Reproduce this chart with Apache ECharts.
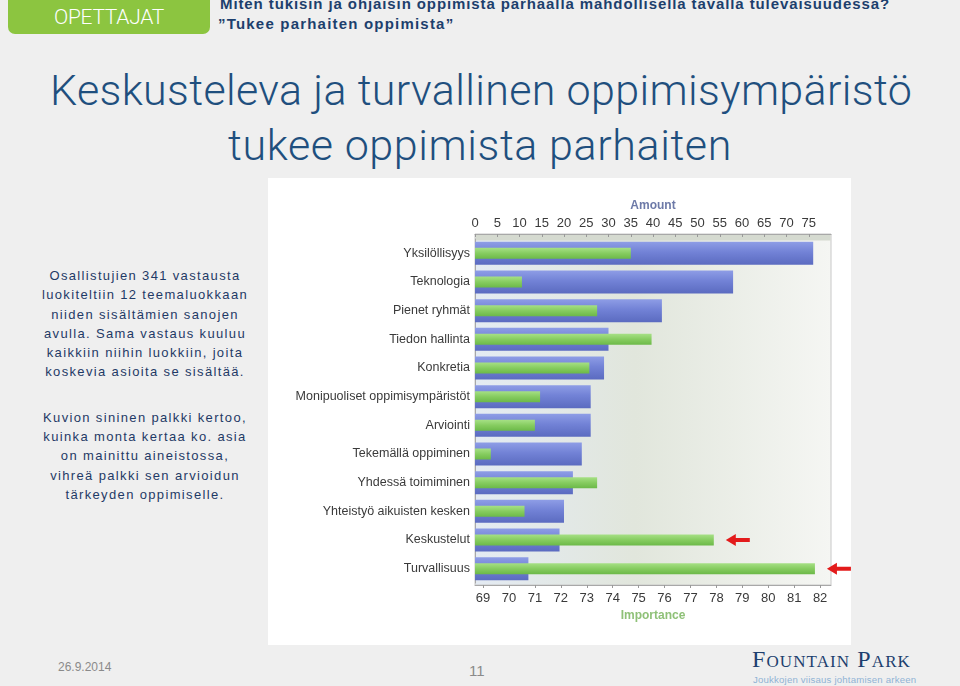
<!DOCTYPE html>
<html>
<head>
<meta charset="utf-8">
<script src="https://cdn.jsdelivr.net/npm/echarts@6/dist/echarts.min.js"></script>
<style>
  html,body{margin:0;padding:0;width:960px;height:686px;overflow:hidden;background:#efefef;font-family:"Liberation Sans",Arial,sans-serif;}
  .abs{position:absolute;white-space:nowrap;}
  #tag{left:8px;top:0;width:202px;height:34px;background:#8cc540;border-radius:0 0 7px 7px;color:#fff;font-size:21px;line-height:34px;text-align:center;font-family:Roboto,"Liberation Sans",sans-serif;font-weight:300;letter-spacing:-0.3px;}
  #h1{left:220px;top:-5px;font-size:15px;font-weight:bold;color:#1d3f6d;letter-spacing:0.9px;}
  #h2{left:218px;top:15px;font-size:15px;font-weight:bold;color:#1d3f6d;letter-spacing:1.2px;}
  .title{font-family:Roboto,"Liberation Sans",sans-serif;font-weight:300;color:#1f4f7e;font-size:43px;}
  #t1{left:50px;top:65px;letter-spacing:0.35px;}
  #t2{left:228px;top:120px;letter-spacing:0.6px;}
  #left{left:20px;top:266px;width:250px;text-align:center;color:#1f3a66;font-size:13px;line-height:19.3px;letter-spacing:1.35px;white-space:normal;}
  #panel{left:268px;top:178px;width:583px;height:467px;background:#fff;}
  #chart{left:268px;top:178px;width:583px;height:467px;}
  #date{left:58px;top:660px;font-size:12px;color:#8a8a8a;}
  #page{left:469px;top:662px;font-size:15px;color:#8a8a8a;}
  #logo1{left:752px;top:646px;font-family:"Liberation Serif","DejaVu Serif",serif;font-variant:small-caps;font-size:24px;color:#1d3f6e;letter-spacing:1.1px;}
  #logo2{left:753px;top:674px;font-size:9.6px;color:#8fb3d5;letter-spacing:0.2px;}
</style>
</head>
<body>
<div id="tag" class="abs">OPETTAJAT</div>
<div id="h1" class="abs">Miten tukisin ja ohjaisin oppimista parhaalla mahdollisella tavalla tulevaisuudessa?</div>
<div id="h2" class="abs">”Tukee parhaiten oppimista”</div>
<div id="t1" class="abs title">Keskusteleva ja turvallinen oppimisympäristö</div>
<div id="t2" class="abs title">tukee oppimista parhaiten</div>
<div id="left" class="abs">Osallistujien 341 vastausta<br>luokiteltiin 12 teemaluokkaan<br>niiden sisältämien sanojen<br>avulla. Sama vastaus kuuluu<br>kaikkiin niihin luokkiin, joita<br>koskevia asioita se sisältää.<br><div style="height:26px"></div>Kuvion sininen palkki kertoo,<br>kuinka monta kertaa ko. asia<br>on mainittu aineistossa,<br>vihreä palkki sen arvioidun<br>tärkeyden oppimiselle.</div>
<div id="panel" class="abs"></div>
<div id="chart" class="abs"></div>
<div id="date" class="abs">26.9.2014</div>
<div id="page" class="abs">11</div>
<div id="logo1" class="abs">Fountain Park</div>
<div id="logo2" class="abs">Joukkojen viisaus johtamisen arkeen</div>
<script>
const categories = ['Yksilöllisyys','Teknologia','Pienet ryhmät','Tiedon hallinta','Konkretia','Monipuoliset oppimisympäristöt','Arviointi','Tekemällä oppiminen','Yhdessä toimiminen','Yhteistyö aikuisten kesken','Keskustelut','Turvallisuus'];
const amountValues = [76,58,42,30,29,26,26,24,22,20,19,12];
const importanceValues = [74.7,70.5,73.4,75.5,73.1,71.2,71.0,69.3,73.4,70.6,77.9,81.8];
const highlighted = ['Keskustelut','Turvallisuus'];

const chart = echarts.init(document.getElementById('chart'));
const G = echarts.graphic.LinearGradient;
const blue = new G(0,0,0,1,[{offset:0,color:'#8e9de6'},{offset:0.45,color:'#7282d6'},{offset:1,color:'#5b6bc0'}]);
const green = new G(0,0,0,1,[{offset:0,color:'#a6e085'},{offset:0.5,color:'#86cc60'},{offset:1,color:'#6cb948'}]);
const bg = new G(0,0,1,0,[{offset:0,color:'#e4ebf3'},{offset:0.45,color:'#e1e6dc'},{offset:1,color:'#f5f6f3'}]);
const arrow = 'path://M0,6 L10,0 L10,4 L24,4 L24,8 L10,8 L10,12 Z';
const labelColor = '#3a3a3a';
chart.setOption({
  animation:false,
  graphic:[
    {type:'rect',silent:true,z:-10,shape:{x:207,y:56,width:356,height:351},style:{fill:bg,stroke:'#c8c8c8',lineWidth:1}},
    {type:'rect',silent:true,z:-9,shape:{x:207.5,y:56.5,width:355,height:6},style:{fill:'#d5dad0'}}
  ],
  grid:{left:207,right:20,top:61,height:344},
  xAxis:[
    {type:'value',position:'top',min:0,max:80,interval:5,offset:5,
     name:'Amount',nameLocation:'middle',nameGap:18,
     nameTextStyle:{color:'#6d7aa8',fontWeight:'bold',fontSize:12,fontFamily:'Liberation Sans'},
     axisLine:{show:true,lineStyle:{color:'#a8a8a8'}},
     axisTick:{show:true,inside:true,length:3,lineStyle:{color:'#999'}},
     axisLabel:{showMaxLabel:false,margin:4,color:labelColor,fontSize:13,fontFamily:'Liberation Sans'},
     splitLine:{show:false}},
    {type:'value',position:'bottom',min:68.69,max:82.42,splitNumber:14,offset:2,
     name:'Importance',nameLocation:'middle',nameGap:22,
     nameTextStyle:{color:'#8fc178',fontWeight:'bold',fontSize:12,fontFamily:'Liberation Sans'},
     axisLine:{show:true,lineStyle:{color:'#a8a8a8'}},
     axisTick:{show:true,length:3,lineStyle:{color:'#999'}},
     axisLabel:{showMinLabel:false,showMaxLabel:false,margin:7,color:labelColor,fontSize:13,fontFamily:'Liberation Sans'},
     splitLine:{show:false}}
  ],
  yAxis:[
    {type:'category',data:categories,inverse:true,
     axisLine:{show:true,lineStyle:{color:'#a8a8a8'}},axisTick:{show:false},
     axisLabel:{margin:5,color:labelColor,fontSize:12.5,fontFamily:'Liberation Sans'}},
    {type:'category',data:categories,inverse:true,show:false}
  ],
  series:[
    {type:'bar',name:'Amount',xAxisIndex:0,yAxisIndex:0,data:amountValues,barWidth:23,itemStyle:{color:blue}},
    {type:'bar',name:'Importance',xAxisIndex:1,yAxisIndex:1,data:importanceValues,barWidth:11,itemStyle:{color:green},
     markPoint:{symbol:arrow,symbolSize:[24,12],itemStyle:{color:'#e31b1b'},label:{show:false},
       data:highlighted.map(c=>({coord:[importanceValues[categories.indexOf(c)],c],symbolOffset:[24,0]}))}}
  ]
});
</script>
</body>
</html>
